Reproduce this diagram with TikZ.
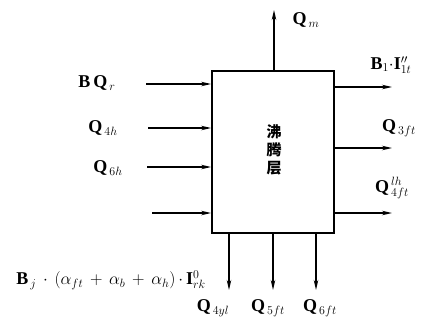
\documentclass[tikz,border=0pt]{standalone}
\usepackage{fontspec}
\setmainfont{Liberation Serif}
\newfontfamily\cjk{Noto Sans CJK SC}
\usetikzlibrary{arrows.meta}
\begin{document}
\begin{tikzpicture}[x=1pt,y=-1pt,
  flow/.style={line width=1.4pt,-{Stealth[length=10pt,width=4.5pt]}},
  lab/.style={inner sep=0pt,font=\fontsize{18}{20}\selectfont\bfseries},
  boxst/.style={draw,line width=1.8pt,minimum width=122pt,minimum height=162pt,inner sep=0pt}]
\useasboundingbox (0,0) rectangle (422,322);
\node[boxst] (box) at (273,152) {};
\node[inner sep=0pt,font=\cjk\bfseries\fontsize{15}{18}\selectfont,align=center] (txt) at (274,150) {沸\\腾\\层};
% top
\coordinate (tq) at (274,10);
\draw[flow] (box.north -| tq) -- (tq);
\node[lab] (lqm) at (306,20) {Q$_{\,m}$};
% left inputs
\coordinate (i1) at (146,84);
\coordinate (i2) at (148,128);
\coordinate (i3) at (147,167);
\coordinate (i4) at (152,213);
\foreach \c in {i1,i2,i3,i4} \draw[flow] (\c) -- (\c -| box.west);
\node[lab] (lbq) at (97,83) {B\,Q$_{\,r}$};
\node[lab] (l4h) at (103,128) {Q$_{\,4h}$};
\node[lab] (l6h) at (108,168) {Q$_{\,6h}$};
\node[lab] (lbig) at (111,280) {B$_{\,j}\,\cdot\,(\alpha_{ft}\,+\,\alpha_b\,+\,\alpha_h)\,\cdot\,$I$^{0}_{rk}$};
% right outputs
\coordinate (o1) at (392,87);
\coordinate (o2) at (392,148);
\coordinate (o3) at (392,213);
\foreach \c in {o1,o2,o3} \draw[flow] (\c -| box.east) -- (\c);
\node[lab] (lb1) at (391,65) {B$_1\cdot$I$''_{1t}$};
\node[lab] (l3f) at (399,128) {Q$_{\,3ft}$};
\node[lab] (l4f) at (392,188) {Q$^{\,lh}_{\,4ft}$};
% bottom outputs
\coordinate (d1) at (229,290);
\coordinate (d2) at (273,290);
\coordinate (d3) at (316,290);
\foreach \c in {d1,d2,d3} \draw[flow] (\c |- box.south) -- (\c);
\node[lab] (l4y) at (213,308) {Q$_{\,4yl}$};
\node[lab] (l5f) at (268,308) {Q$_{\,5ft}$};
\node[lab] (l6f) at (320,308) {Q$_{\,6ft}$};
\end{tikzpicture}
\end{document}
